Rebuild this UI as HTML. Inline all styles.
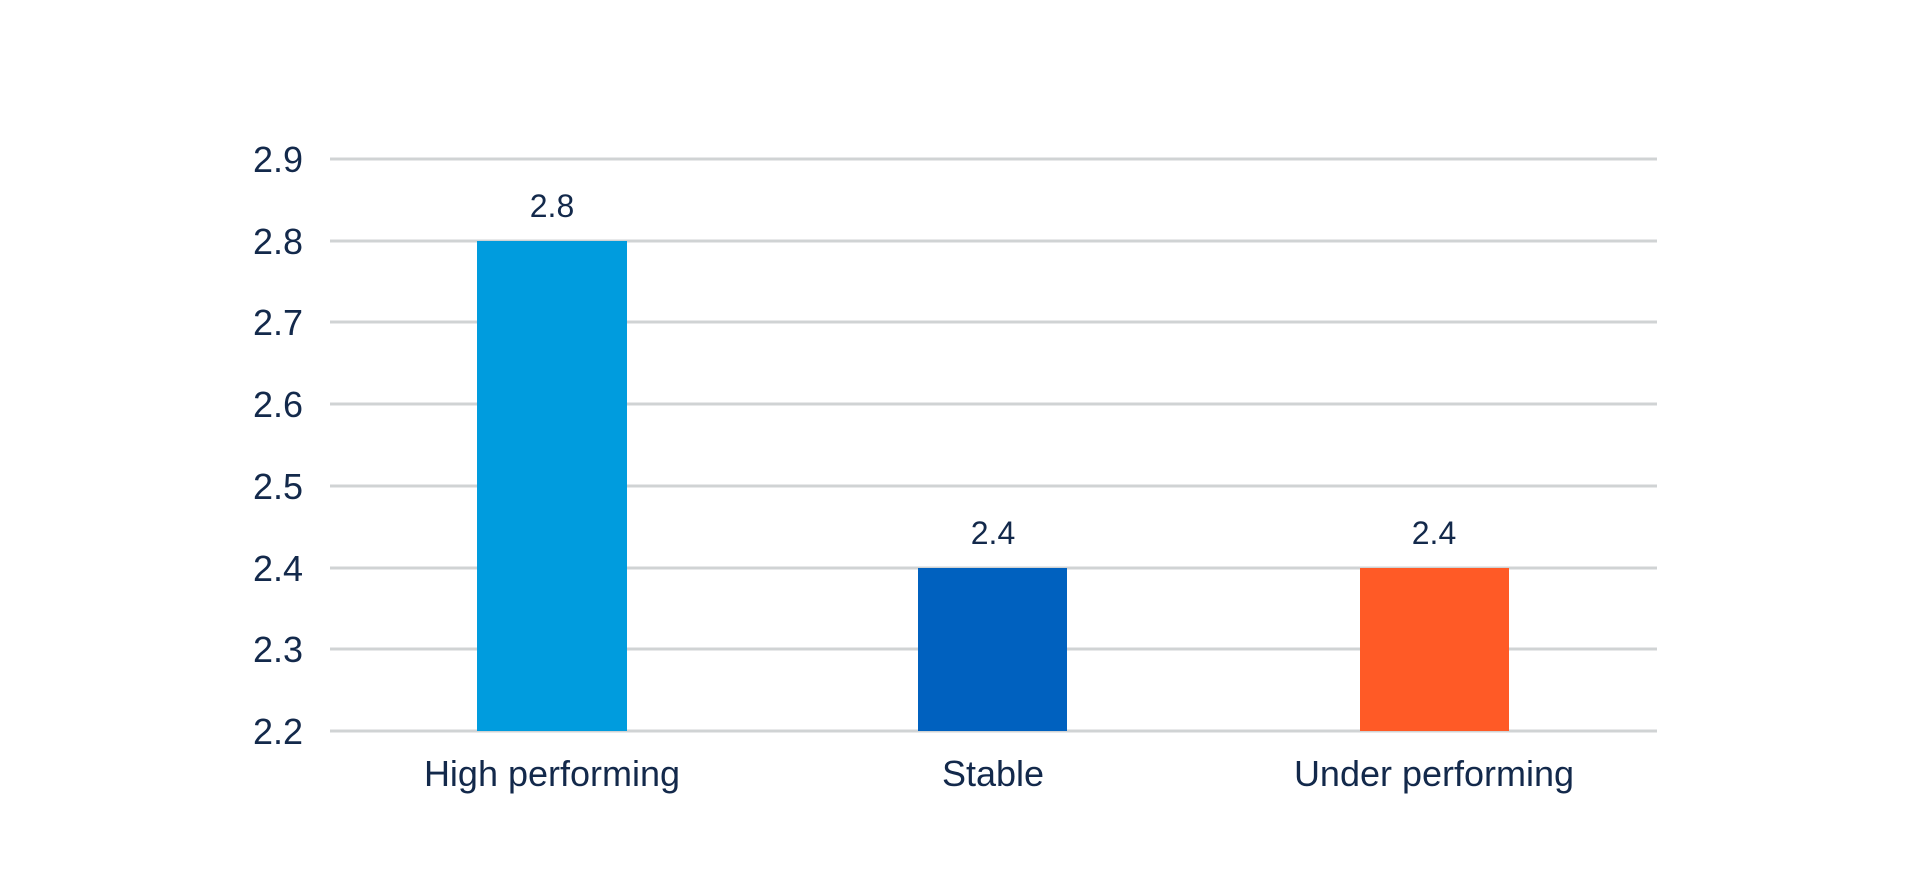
<!DOCTYPE html>
<html><head><meta charset="utf-8"><style>
html,body{margin:0;padding:0;background:#fff;}
svg{display:block;}
text{font-family:"Liberation Sans",sans-serif;fill:#13294B;}
</style></head><body>
<svg width="1921" height="890" viewBox="0 0 1921 890" xmlns="http://www.w3.org/2000/svg">
<g stroke="#D0D3D4" stroke-width="3">
<line x1="330" x2="1657" y1="159" y2="159"/>
<line x1="330" x2="1657" y1="241" y2="241"/>
<line x1="330" x2="1657" y1="322" y2="322"/>
<line x1="330" x2="1657" y1="404" y2="404"/>
<line x1="330" x2="1657" y1="486" y2="486"/>
<line x1="330" x2="1657" y1="568" y2="568"/>
<line x1="330" x2="1657" y1="649" y2="649"/>
<line x1="330" x2="1657" y1="731" y2="731"/>
</g>
<g font-size="36" text-anchor="end">
<text x="303" y="172">2.9</text>
<text x="303" y="254">2.8</text>
<text x="303" y="335">2.7</text>
<text x="303" y="417">2.6</text>
<text x="303" y="499">2.5</text>
<text x="303" y="581">2.4</text>
<text x="303" y="662">2.3</text>
<text x="303" y="744">2.2</text>
</g>
<rect x="477" y="241" width="150" height="490" fill="#009CDE"/>
<rect x="918" y="568" width="149" height="163" fill="#0061BF"/>
<rect x="1360" y="568" width="149" height="163" fill="#FF5A26"/>
<g font-size="32" text-anchor="middle">
<text x="552" y="217">2.8</text>
<text x="993" y="544">2.4</text>
<text x="1434" y="544">2.4</text>
</g>
<g font-size="36" text-anchor="middle">
<text x="552" y="786">High performing</text>
<text x="993" y="786">Stable</text>
<text x="1434" y="786">Under performing</text>
</g>
</svg>
</body></html>
